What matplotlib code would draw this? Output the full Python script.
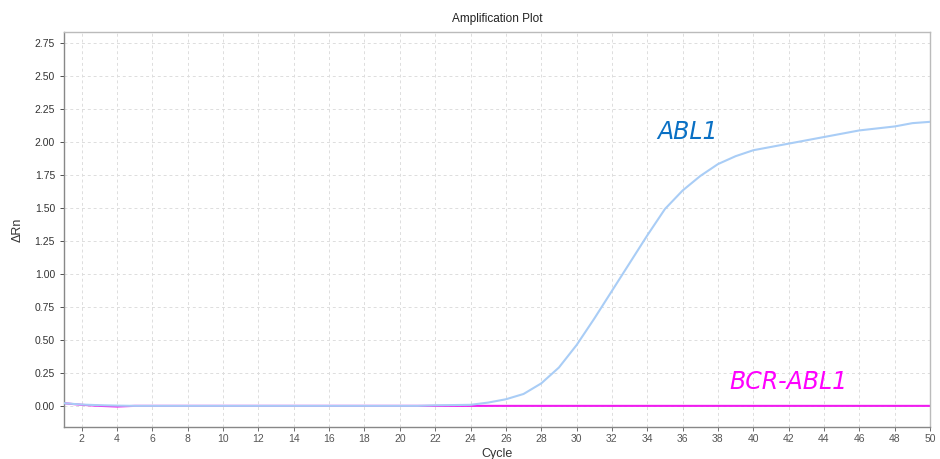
import numpy as np
import matplotlib
matplotlib.use("Agg")
import matplotlib.pyplot as plt

plt.rcParams['font.family'] = ['Liberation Sans', 'DejaVu Sans']

# cycles 1..50
cycles = np.arange(1, 51)

abl1 = [0.02, 0.01, 0.005, 0.002, 0.0, 0.0, 0.0, 0.0, 0.0, 0.0,
        0.0, 0.0, 0.0, 0.0, 0.0, 0.0, 0.0, 0.0, 0.0, 0.0,
        0.0, 0.004, 0.006, 0.008, 0.025, 0.05, 0.09, 0.17, 0.29, 0.46,
        0.66, 0.87, 1.08, 1.29, 1.49, 1.63, 1.74, 1.83, 1.89, 1.935,
        1.96, 1.985, 2.01, 2.035, 2.06, 2.085, 2.10, 2.115, 2.14, 2.15]

bcr_abl1 = [0.02, 0.008, 0.0, -0.005, 0.0] + [0.0] * 45

xticks = np.arange(2, 51, 2)
yticks = np.arange(0, 2.76, 0.25)

fig = plt.figure(figsize=(9.4, 4.59), dpi=100)
ax = fig.add_axes([0.0681, 0.0697, 0.9213, 0.8606])

ax.plot(cycles, bcr_abl1, color='#f01cf0', lw=1.5, zorder=2)
ax.plot(cycles, abl1, color='#a9cdf6', lw=1.5, zorder=3)

ax.set_xlim(1, 50)
ax.set_ylim(-0.16, 2.83)
ax.set_xticks(xticks)
ax.set_yticks(yticks)
ax.yaxis.set_major_formatter(plt.FormatStrFormatter('%.2f'))
ax.tick_params(axis='both', labelsize=7.5, colors='#333333', length=3, width=0.6)
ax.tick_params(axis='x', colors='#555555', pad=2)
ax.grid(True, ls=(0, (3, 3)), color='#dddddd', lw=0.7)

for s in ['left', 'bottom']:
    ax.spines[s].set_color('#888888')
    ax.spines[s].set_linewidth(1.0)
for s in ['top', 'right']:
    ax.spines[s].set_color('#bbbbbb')
    ax.spines[s].set_linewidth(1.0)

ax.set_title('Amplification Plot', fontsize=8.5, color='#222222', pad=7)
ax.set_xlabel('Cycle', fontsize=9, color='#333333', labelpad=3)
ax.set_ylabel('ΔRn', fontsize=9, color='#333333', labelpad=8)

ax.text(36.3, 2.07, 'ABL1', color='#0a70c4', fontsize=17, style='italic',
        ha='center', va='center', family='DejaVu Sans')
ax.text(42.0, 0.18, 'BCR-ABL1', color='#ff00ff', fontsize=17, style='italic',
        ha='center', va='center', family='DejaVu Sans')

fig.savefig('out.png', dpi=100)
